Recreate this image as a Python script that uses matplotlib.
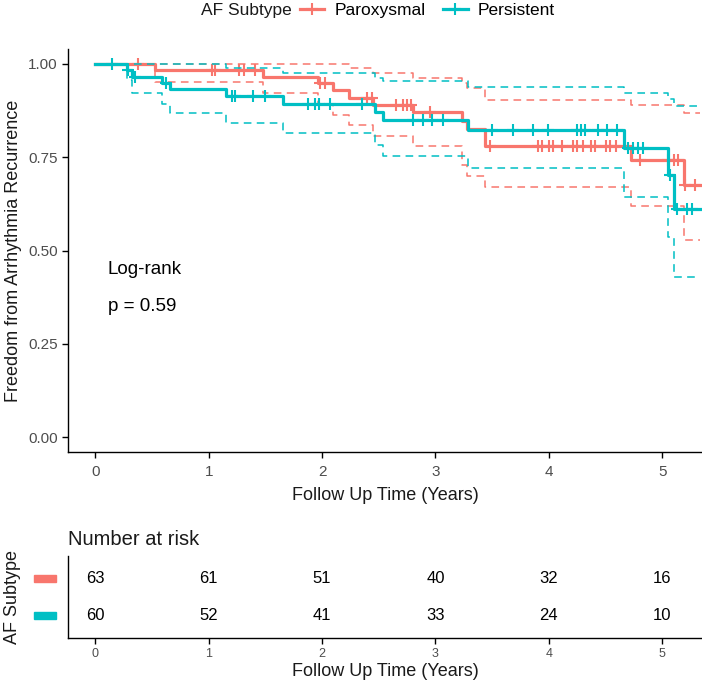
import numpy as np
import matplotlib
matplotlib.use("Agg")
import matplotlib.pyplot as plt
from matplotlib.lines import Line2D
from matplotlib.patches import Rectangle
import matplotlib.transforms as mtransforms

plt.rcParams['font.family'] = ['Liberation Sans', 'DejaVu Sans']

RED = '#F8766D'
CYAN = '#00BFC4'
END_TIME = 5.33

group_names = ['Paroxysmal', 'Persistent']

# Kaplan-Meier step data (time of each step, value after the step)
parox_time = [0, 0.53, 1.48, 1.96, 2.10, 2.24, 2.45, 2.80, 3.23, 3.28, 3.44, 4.72, 5.19]
parox_surv = [1.0, 0.984, 0.966, 0.948, 0.930, 0.910, 0.890, 0.870, 0.848, 0.826, 0.781, 0.743, 0.676]
parox_lower = [1.0, 0.952, 0.922, 0.890, 0.864, 0.837, 0.807, 0.781, 0.730, 0.700, 0.671, 0.618, 0.527]
parox_upper = [1.0, 1.0, 1.0, 1.0, 1.0, 0.990, 0.976, 0.963, 0.950, 0.936, 0.904, 0.889, 0.869]
parox_censor = [0.38, 1.03, 1.06, 1.27, 1.31, 1.41, 1.98, 2.03, 2.40, 2.44, 2.65, 2.71,
                2.75, 2.78, 2.95, 3.48, 3.90, 3.94, 4.00, 4.04, 4.12, 4.21, 4.25, 4.30,
                4.37, 4.41, 4.50, 4.54, 4.59, 4.80, 5.05, 5.10, 5.14, 5.20, 5.29]

pers_time = [0, 0.28, 0.32, 0.59, 0.66, 1.15, 1.66, 2.47, 2.54, 3.29, 4.66, 5.05, 5.10]
pers_surv = [1.0, 0.983, 0.966, 0.949, 0.932, 0.913, 0.893, 0.871, 0.850, 0.823, 0.775, 0.703, 0.612]
pers_lower = [1.0, 0.957, 0.922, 0.893, 0.869, 0.842, 0.816, 0.784, 0.752, 0.722, 0.644, 0.537, 0.428]
pers_upper = [1.0, 1.0, 1.0, 1.0, 1.0, 0.990, 0.976, 0.963, 0.953, 0.937, 0.922, 0.905, 0.886]
pers_censor = [0.15, 0.29, 0.35, 0.62, 1.21, 1.23, 1.39, 1.50, 1.88, 1.94, 1.97, 2.07,
               2.35, 2.80, 2.89, 2.97, 3.07, 3.50, 3.68, 3.86, 3.99, 4.25, 4.28, 4.32,
               4.43, 4.51, 4.60, 4.70, 4.74, 4.79, 4.83, 5.07, 5.13, 5.22, 5.26]

risk_times = [0, 1, 2, 3, 4, 5]
parox_risk = [63, 61, 51, 40, 32, 16]
pers_risk = [60, 52, 41, 33, 24, 10]

logrank_p = 0.59

W, H = 702, 686
fig = plt.figure(figsize=(W / 100, H / 100), dpi=100)

def box(l, t, r, b):
    return [l / W, 1 - b / H, (r - l) / W, (b - t) / H]

ax = fig.add_axes(box(68, 49, 702, 452))
axr = fig.add_axes(box(68, 556, 702, 638))

def stepify(t, v):
    tt = list(t) + [END_TIME]
    vv = list(v) + [v[-1]]
    return tt, vv

series = [
    (parox_time, parox_surv, parox_lower, parox_upper, parox_censor, RED),
    (pers_time, pers_surv, pers_lower, pers_upper, pers_censor, CYAN),
]
for t, s, lo, up, cens, col in series:
    tt, ss = stepify(t, s)
    _, ll = stepify(t, lo)
    _, uu = stepify(t, up)
    ax.step(tt, ll, where='post', color=col, lw=1.1, ls=(0, (5, 3.5)))
    ax.step(tt, uu, where='post', color=col, lw=1.1, ls=(0, (5, 3.5)))
    ax.step(tt, ss, where='post', color=col, lw=2.3)
    idx = np.searchsorted(np.array(t), np.array(cens), side='right') - 1
    cy = np.array(s)[idx]
    ax.plot(cens, cy, ls='none', marker='+', ms=9, mew=1.5, color=col)

ax.set_xlim(-0.24, 5.35)
ax.set_ylim(-0.04, 1.04)
ax.set_yticks([0, 0.25, 0.5, 0.75, 1.0])
ax.set_yticklabels(['0.00', '0.25', '0.50', '0.75', '1.00'])
ax.set_xticks(risk_times)
for sp in ['top', 'right']:
    ax.spines[sp].set_visible(False)
for a in (ax, axr):
    for sp in ['left', 'bottom']:
        a.spines[sp].set_linewidth(1.0)
ax.tick_params(axis='both', labelsize=11, labelcolor='#4D4D4D', length=4, width=1.0)
ax.tick_params(axis='x', pad=5)
ax.set_xlabel('Follow Up Time (Years)', fontsize=13, color='#1a1a1a', labelpad=6)
ax.set_ylabel('Freedom from Arrhythmia Recurrence', fontsize=13, color='#1a1a1a', labelpad=4)

ax.text(0.11, 0.45, 'Log-rank', fontsize=13.5, va='center', ha='left')
ax.text(0.11, 0.35, f'p = {logrank_p}', fontsize=13.5, va='center', ha='left')

# legend
fig.text(292 / W, 1 - 10 / H, 'AF Subtype', fontsize=12.5, ha='right', va='center', color='#1a1a1a')
handles = [Line2D([0], [0], color=RED, lw=2.3, marker='+', ms=9, mew=1.5),
           Line2D([0], [0], color=CYAN, lw=2.3, marker='+', ms=9, mew=1.5)]
fig.legend(handles, group_names, loc='center left', bbox_to_anchor=(300 / W, 1 - 10 / H),
           ncol=2, frameon=False, fontsize=12.5, handlelength=1.4, handletextpad=0.6,
           columnspacing=1.0, borderpad=0, borderaxespad=0)

# risk table
axr.set_xlim(-0.24, 5.35)
axr.set_ylim(0.4, 2.6)
for x, n in zip(risk_times, parox_risk):
    axr.text(x, 2, str(n), ha='center', va='center', fontsize=12)
for x, n in zip(risk_times, pers_risk):
    axr.text(x, 1, str(n), ha='center', va='center', fontsize=12)
axr.set_yticks([])
axr.set_xticks(risk_times)
axr.tick_params(axis='x', labelsize=9, labelcolor='#4D4D4D', length=4, width=1.0)
for sp in ['top', 'right']:
    axr.spines[sp].set_visible(False)
axr.set_xlabel('Follow Up Time (Years)', fontsize=13, color='#1a1a1a', labelpad=2)
axr.set_ylabel('AF Subtype', fontsize=13, color='#1a1a1a', labelpad=34)
trans = mtransforms.blended_transform_factory(fig.transFigure, axr.transData)
for yv, col in [(2, RED), (1, CYAN)]:
    axr.add_patch(Rectangle((34 / W, yv - 0.09), 22 / W, 0.18, transform=trans,
                            color=col, clip_on=False))
axr.set_title('Number at risk', fontsize=14.5, loc='left', pad=8, color='#1a1a1a')

fig.savefig('out.png', dpi=100)
